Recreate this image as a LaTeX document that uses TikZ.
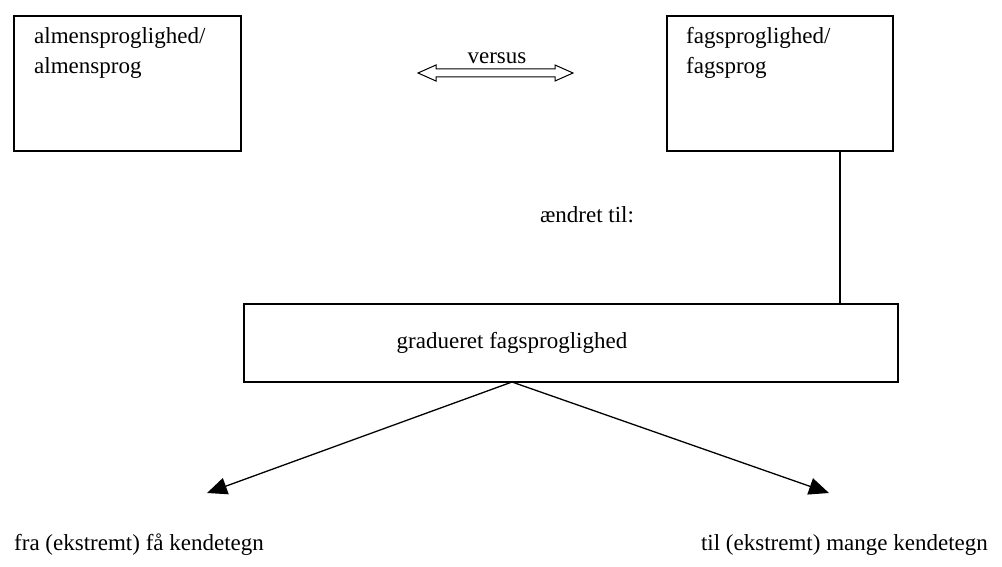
\documentclass[tikz,border=0pt]{standalone}
\usepackage{fontspec}
\setmainfont{Liberation Serif}
\usetikzlibrary{arrows.meta}
\begin{document}
\begin{tikzpicture}[x=1pt,y=-1pt,
  box/.style={draw,line width=1.3pt},
  lbl/.style={font=\fontsize{23}{30}\selectfont,inner sep=0pt},
  conn/.style={line width=1.3pt},
  tip/.style={-{Triangle[length=20pt,width=17pt]}}]
\useasboundingbox (0,0) rectangle (1002,567);
% boxes
\node[box,minimum width=227pt,minimum height=135pt] (almen) at (127.5,83.5) {};
\node[lbl,anchor=north west,align=left] (almentxt) at (34,27) {almensproglighed/\\almensprog};
\node[box,minimum width=226pt,minimum height=135pt] (fag) at (780,83.5) {};
\node[lbl,anchor=north west,align=left] (fagtxt) at (686,27) {fagsproglighed/\\fagsprog};
\node[box,minimum width=654pt,minimum height=78pt] (grad) at (571,343) {};
\node[lbl] (gradtxt) at (512,343) {gradueret fagsproglighed};
% labels
\node[lbl] (versus) at (497,58) {versus};
\node[lbl] (aendret) at (587,215) {ændret til:};
\node[lbl,anchor=west] (faa) at (14,545) {fra (ekstremt) få kendetegn};
\node[lbl,anchor=east] (mange) at (988,545) {til (ekstremt) mange kendetegn};
% hollow double arrow
\draw[line width=1pt,fill=white] (418,73) -- (436,65) -- (436,69) -- (555,69) -- (555,65) -- (573,73)
  -- (555,81) -- (555,77) -- (436,77) -- (436,81) -- cycle;
% connectors
\coordinate (apex) at (512,382);
\coordinate (ltip) at (207,493);
\coordinate (rtip) at (829,493);
\draw[conn] (fag.south -| 840,0) -- (grad.north -| 840,0);
\draw[conn,tip] (apex) -- (ltip);
\draw[conn,tip] (apex) -- (rtip);
\end{tikzpicture}
\end{document}
